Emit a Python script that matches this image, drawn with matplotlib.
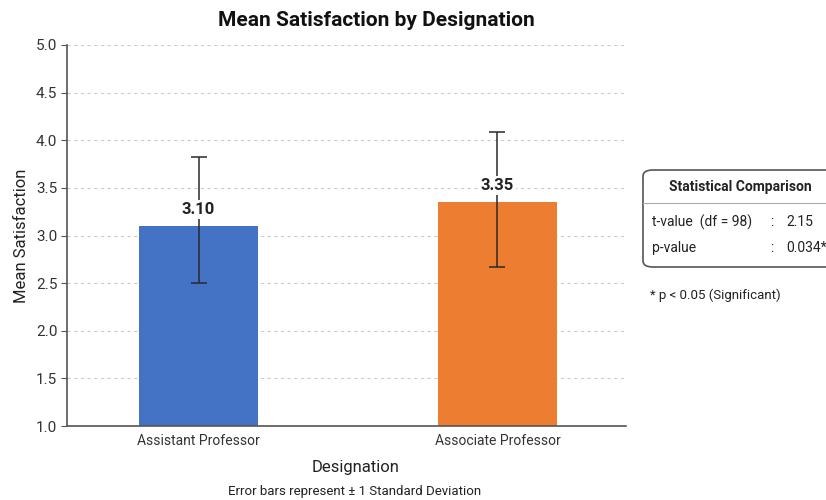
import matplotlib
matplotlib.use("Agg")
import matplotlib.pyplot as plt
from matplotlib.patches import FancyBboxPatch
import numpy as np

categories = ["Assistant Professor", "Associate Professor"]
means = [3.10, 3.35]
err_lower = [0.60, 0.68]
err_upper = [0.72, 0.74]
bar_colors = ["#4472C4", "#ED7D31"]
yticks = [1.0, 1.5, 2.0, 2.5, 3.0, 3.5, 4.0, 4.5, 5.0]
t_value = "2.15"
df_value = 98
p_value = "0.034*"

plt.rcParams['font.family'] = ['Roboto', 'DejaVu Sans']

W, H = 826, 500
fig = plt.figure(figsize=(W / 100, H / 100), dpi=100)
ax = fig.add_axes([67 / W, 1 - 426 / H, (626 - 67) / W, (426 - 45) / H])

x = np.arange(len(categories))
ax.bar(x, means, width=0.4, color=bar_colors, zorder=2)
ax.errorbar(x, means, yerr=[err_lower, err_upper], fmt='none', ecolor='#2a2a2a',
            elinewidth=1.1, capsize=6, capthick=1.1, zorder=3)
for xi, m in zip(x, means):
    ax.text(xi, m + 0.17, f"{m:.2f}", ha='center', va='center', fontsize=12,
            fontweight='bold', color='#222222', zorder=4,
            bbox=dict(facecolor='white', edgecolor='none', pad=1.5))

ax.set_xlim(-0.44, 1.43)
ax.set_ylim(1.0, 5.0)
ax.set_yticks(yticks)
ax.set_yticklabels([f"{v:.1f}" for v in yticks], fontsize=11, color='#333333')
ax.set_xticks(x)
ax.set_xticklabels(categories, fontsize=10, color='#333333')
ax.tick_params(axis='x', length=0, pad=6)
ax.tick_params(axis='y', length=4, color='#555555', pad=3)
ax.yaxis.grid(True, linestyle=(0, (3, 3)), color='#cccccc', linewidth=0.8, zorder=0)
ax.set_axisbelow(True)
for s in ['top', 'right']:
    ax.spines[s].set_visible(False)
for s in ['left', 'bottom']:
    ax.spines[s].set_color('#555555')
    ax.spines[s].set_linewidth(1.2)
ax.set_ylabel("Mean Satisfaction", fontsize=12, color='#222222', labelpad=5)
ax.set_xlabel("Designation", fontsize=12, color='#222222')
ax.xaxis.set_label_coords((356 - 67) / (626 - 67), -(460 - 426) / (426 - 45))

fig.text(376 / W, 1 - 21 / H, "Mean Satisfaction by Designation", ha='center', va='center',
         fontsize=15, fontweight='bold', color='#111111')
fig.text(355 / W, 1 - 492 / H, "Error bars represent \u00b1 1 Standard Deviation",
         ha='center', va='center', fontsize=9.5, color='#222222')

# Stats box
bx0, by0, bx1, by1 = 643, 170, 840, 267
box = FancyBboxPatch((bx0 / W, 1 - by1 / H), (bx1 - bx0) / W, (by1 - by0) / H,
                     boxstyle="round,pad=0,rounding_size=0.012", transform=fig.transFigure,
                     facecolor='white', edgecolor='#555555', linewidth=1.2, clip_on=False)
fig.patches.append(box)
fig.add_artist(plt.Line2D([bx0 / W, 826 / W], [1 - 203 / H, 1 - 203 / H], color='#aaaaaa',
                          linewidth=0.8, transform=fig.transFigure))
fig.text(740 / W, 1 - 187 / H, "Statistical Comparison", ha='center', va='center',
         fontsize=10, fontweight='bold', color='#222222')
fig.text(652 / W, 1 - 222 / H, f"t-value  (df = {df_value})", ha='left', va='center',
         fontsize=10, color='#222222')
fig.text(772 / W, 1 - 222 / H, ":", ha='center', va='center', fontsize=10, color='#222222')
fig.text(786 / W, 1 - 222 / H, t_value, ha='left', va='center', fontsize=10, color='#222222')
fig.text(652 / W, 1 - 248 / H, "p-value", ha='left', va='center', fontsize=10, color='#222222')
fig.text(772 / W, 1 - 248 / H, ":", ha='center', va='center', fontsize=10, color='#222222')
fig.text(786 / W, 1 - 248 / H, p_value, ha='left', va='center', fontsize=10, color='#222222')
fig.text(650 / W, 1 - 295 / H, "* p < 0.05 (Significant)", ha='left', va='center',
         fontsize=9.5, color='#222222')

fig.savefig("out.png", dpi=100, facecolor='white')
